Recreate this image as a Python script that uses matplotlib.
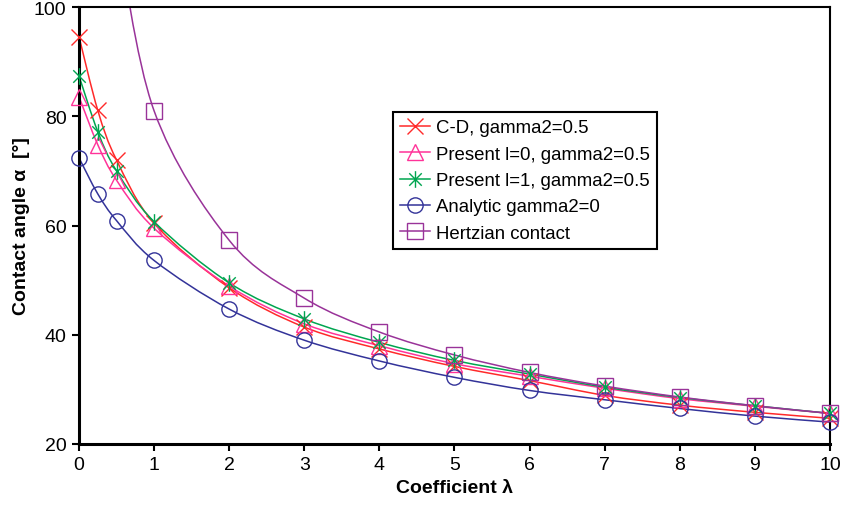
import numpy as np
import matplotlib
matplotlib.use("Agg")
import matplotlib.pyplot as plt
from matplotlib.path import Path
from matplotlib.patches import PathPatch

plt.rcParams['font.family'] = ['Liberation Sans Narrow', 'Liberation Sans', 'DejaVu Sans']

# data
lam = [0, 0.25, 0.5, 1, 2, 3, 4, 5, 6, 7, 8, 9, 10]
cd_05 = [94.6, 81.1, 72.0, 60.4, 48.6, 41.4, 37.4, 34.2, 31.6, 28.9, 27.1, 25.8, 24.7]
present_l0 = [83.6, 74.8, 68.3, 59.5, 48.9, 42.0, 38.0, 34.7, 32.4, 30.2, 28.3, 26.9, 25.6]
present_l1 = [87.4, 77.2, 70.0, 60.7, 49.5, 42.9, 38.6, 35.3, 32.8, 30.4, 28.5, 27.0, 25.6]
analytic_0 = [72.4, 65.8, 60.9, 53.6, 44.7, 39.0, 35.2, 32.2, 29.8, 28.1, 26.5, 25.1, 24.0]
lam_hertz = [0.5, 1, 2, 3, 4, 5, 6, 7, 8, 9, 10]
hertz = [114.5, 81.0, 57.3, 46.7, 40.5, 36.3, 33.1, 30.6, 28.6, 27.0, 25.6]

labels = ["C-D, gamma2=0.5", "Present l=0, gamma2=0.5", "Present l=1, gamma2=0.5",
          "Analytic gamma2=0", "Hertzian contact"]

# asterisk marker like the spreadsheet one: vertical bar plus an x
star = Path([(0, -1), (0, 1), (-0.75, -0.75), (0.75, 0.75), (-0.75, 0.75), (0.75, -0.75)],
            [Path.MOVETO, Path.LINETO, Path.MOVETO, Path.LINETO, Path.MOVETO, Path.LINETO])

series = [
    (lam, cd_05, '#FF2A2A', 'x', 11),
    (lam, present_l0, '#FF3399', '^', 11),
    (lam, present_l1, '#00A550', star, 12),
    (lam, analytic_0, '#333399', 'o', 11),
    (lam_hertz, hertz, '#993399', 's', 12),
]


def smooth_path(xs, ys):
    # spreadsheet style smoothed line: bezier segments through the points
    p = np.column_stack([xs, ys]).astype(float)
    verts = [p[0]]
    codes = [Path.MOVETO]
    n = len(p)
    for i in range(n - 1):
        p0 = p[i - 1] if i > 0 else p[i]
        p3 = p[i + 2] if i + 2 < n else p[i + 1]
        c1 = p[i] + (p[i + 1] - p0) / 6.0
        c2 = p[i + 1] - (p3 - p[i]) / 6.0
        verts += [c1, c2, p[i + 1]]
        codes += [Path.CURVE4] * 3
    return Path(verts, codes)


fig = plt.figure(figsize=(8.44, 5.06), dpi=100)
ax = fig.add_axes([0.0936, 0.1206, 0.8898, 0.8634])
ax.set_xlim(0, 10)
ax.set_ylim(20, 100)

for xs, ys, col, mk, ms in series:
    ax.add_patch(PathPatch(smooth_path(xs, ys), facecolor='none', edgecolor=col, lw=1.1, zorder=2))
    # markers: only those inside the value range, not clipped at the frame
    pts = [(x, y) for x, y in zip(xs, ys) if y <= 100]
    ax.plot([q[0] for q in pts], [q[1] for q in pts], linestyle='none', marker=mk, markersize=ms,
            markerfacecolor='none', markeredgecolor=col, markeredgewidth=1.0, zorder=3, clip_on=False)

# legend entries show the line through the marker
leg_handles = []
for (xs, ys, col, mk, ms) in series:
    lh, = ax.plot([], [], linestyle='-', color=col, lw=1.1, marker=mk, markersize=ms,
                  markerfacecolor='none', markeredgecolor=col, markeredgewidth=1.0)
    leg_handles.append(lh)

ax.set_xticks(range(0, 11))
ax.set_yticks([20, 40, 60, 80, 100])
ax.tick_params(axis='both', direction='out', length=5, width=1.5, labelsize=14, pad=4)

for side in ['left', 'bottom']:
    ax.spines[side].set_linewidth(2.2)
for side in ['top', 'right']:
    ax.spines[side].set_linewidth(1.5)

ax.set_xlabel("Coefficient \u03bb", fontsize=14, fontweight='bold',
              family=['Liberation Sans', 'DejaVu Sans'], labelpad=4)
ax.set_ylabel("Contact angle \u03b1  [\u00b0]", fontsize=14, fontweight='bold',
              family=['Liberation Sans', 'DejaVu Sans'], labelpad=3)

leg = ax.legend(leg_handles, labels, loc='upper left', bbox_to_anchor=(0.418, 0.76),
                borderaxespad=0, fancybox=False, framealpha=1, edgecolor='black',
                prop={'family': ['Liberation Sans', 'DejaVu Sans'], 'size': 13.4},
                handlelength=1.6, handletextpad=0.3, labelspacing=0.5, borderpad=0.4)
leg.get_frame().set_linewidth(1.5)

fig.savefig("out.png", dpi=100)
